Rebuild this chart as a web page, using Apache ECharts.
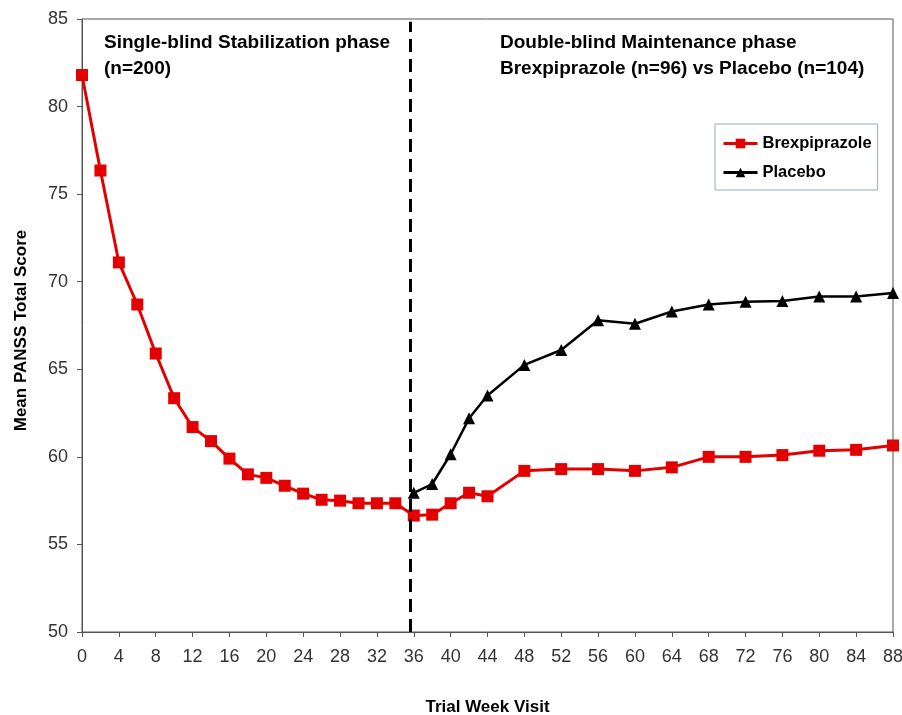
<!DOCTYPE html>
<html>
<head>
<meta charset="utf-8">
<script src="https://cdn.jsdelivr.net/npm/echarts@6/dist/echarts.min.js"></script>
<style>
  html, body { margin: 0; padding: 0; background: #fff; }
  #chart { width: 902px; height: 715px; }
</style>
</head>
<body>
<div id="chart"></div>
<script>
// ---- data ----
var brexWeeks = [0,2,4,6,8,10,12,14,16,18,20,22,24,26,28,30,32,34,36,38,40,42,44,48,52,56,60,64,68,72,76,80,84,88];
var brexValues = [81.8,76.35,71.1,68.7,65.9,63.35,61.7,60.9,59.9,59.0,58.8,58.35,57.9,57.55,57.5,57.35,57.35,57.35,56.65,56.7,57.35,57.95,57.75,59.2,59.3,59.3,59.2,59.4,60.0,60.0,60.1,60.35,60.4,60.65];
var placeboWeeks = [36,38,40,42,44,48,52,56,60,64,68,72,76,80,84,88];
var placeboValues = [57.95,58.45,60.15,62.2,63.5,65.25,66.1,67.8,67.6,68.3,68.7,68.85,68.9,69.15,69.15,69.35];
var xTicks = { min: 0, max: 88, interval: 4 };
var yTicks = { min: 50, max: 85, interval: 5 };
var phaseBoundaryWeek = 35.6;
var phaseBoundaryRange = [50, 84.85];
var seriesNames = ['Brexpiprazole', 'Placebo'];
var phaseLabels = ['Single-blind Stabilization phase', '(n=200)', 'Double-blind Maintenance phase', 'Brexpiprazole (n=96) vs Placebo (n=104)'];

function pairs(xs, ys) { return xs.map(function (x, i) { return [x, ys[i]]; }); }

var FONT = "'Liberation Sans', Arial, sans-serif";
var chart = echarts.init(document.getElementById('chart'), null, { renderer: 'canvas' });

chart.setOption({
  animation: false,
  backgroundColor: '#ffffff',
  grid: {
    left: 82, right: 9, top: 19, bottom: 83,
    show: true, borderColor: '#555555', borderWidth: 1,
    containLabel: false, outerBoundsMode: 'none'
  },
  legend: {
    orient: 'vertical',
    left: 715, top: 124,
    padding: [11, 6, 9, 7],
    itemWidth: 34, itemHeight: 12, itemGap: 12,
    borderColor: '#9aaabb', borderWidth: 1,
    backgroundColor: '#ffffff',
    lineStyle: { width: 3 },
    textStyle: { fontFamily: FONT, fontSize: 16.5, fontWeight: 'bold', color: '#000000' },
    data: seriesNames
  },
  xAxis: {
    type: 'value',
    min: xTicks.min, max: xTicks.max, interval: xTicks.interval,
    name: 'Trial Week Visit', nameLocation: 'middle', nameGap: 67,
    nameTextStyle: { fontFamily: FONT, fontSize: 17, fontWeight: 'bold', color: '#000000' },
    axisLine: { lineStyle: { color: '#555555', width: 1 } },
    axisTick: { show: true, length: 5, lineStyle: { color: '#555555' } },
    axisLabel: { fontFamily: FONT, fontSize: 18, color: '#333333', margin: 16 },
    splitLine: { show: false }
  },
  yAxis: {
    type: 'value',
    min: yTicks.min, max: yTicks.max, interval: yTicks.interval,
    name: 'Mean PANSS Total Score', nameLocation: 'middle', nameGap: 52,
    nameTextStyle: { fontFamily: FONT, fontSize: 17, fontWeight: 'bold', color: '#000000', padding: [0, 0, 0, -10] },
    axisLine: { show: true, lineStyle: { color: '#555555', width: 1 } },
    axisTick: { show: true, length: 5, lineStyle: { color: '#555555' } },
    axisLabel: { fontFamily: FONT, fontSize: 18, color: '#333333', margin: 14 },
    splitLine: { show: false }
  },
  series: [
    {
      name: seriesNames[0],
      type: 'line',
      data: pairs(brexWeeks, brexValues),
      symbol: 'rect', symbolSize: 12,
      lineStyle: { color: '#e30000', width: 3 },
      itemStyle: { color: '#e30000' },
      clip: false,
      z: 3,
      markLine: {
        silent: true,
        symbol: ['none', 'none'],
        label: { show: false },
        lineStyle: { color: '#000000', width: 3, type: [13, 7] },
        data: [[{ coord: [phaseBoundaryWeek, phaseBoundaryRange[0]] }, { coord: [phaseBoundaryWeek, phaseBoundaryRange[1]] }]]
      }
    },
    {
      name: seriesNames[1],
      type: 'line',
      data: pairs(placeboWeeks, placeboValues),
      symbol: 'triangle', symbolSize: 12,
      lineStyle: { color: '#000000', width: 2.5 },
      itemStyle: { color: '#000000' },
      clip: false,
      z: 4
    }
  ],
  graphic: [
    { type: 'text', x: 104, y: 43, style: { text: phaseLabels[0], font: 'bold 19px ' + FONT, fill: '#000', verticalAlign: 'middle' } },
    { type: 'text', x: 104, y: 69, style: { text: phaseLabels[1], font: 'bold 19px ' + FONT, fill: '#000', verticalAlign: 'middle' } },
    { type: 'text', x: 500, y: 43, style: { text: phaseLabels[2], font: 'bold 19px ' + FONT, fill: '#000', verticalAlign: 'middle' } },
    { type: 'text', x: 500, y: 69, style: { text: phaseLabels[3], font: 'bold 19px ' + FONT, fill: '#000', verticalAlign: 'middle' } }
  ]
});
</script>
</body>
</html>
